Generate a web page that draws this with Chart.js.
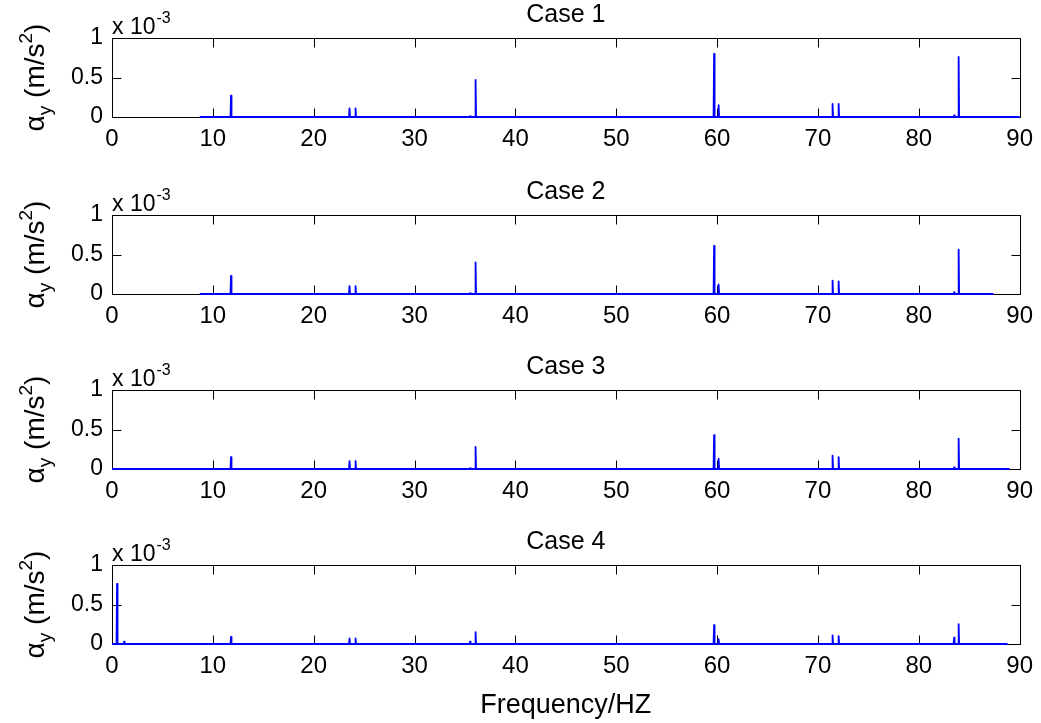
<!DOCTYPE html>
<html>
<head>
<meta charset="utf-8">
<script src="https://cdn.jsdelivr.net/npm/chart.js@4.4.1/dist/chart.umd.min.js"></script>
<style>
  body { margin: 0; background: #fff; }
  #wrap { position: relative; width: 1041px; height: 723px; }
  #wrap canvas { position: absolute; left: 0; }
</style>
</head>
<body>
<div id="wrap"></div>
<script>
// Spectral lines (Hz) and their peak acceleration, in units of 1e-3 m/s^2
const caseNames = ['Case 1', 'Case 2', 'Case 3', 'Case 4']
const peakHz = [0.5, 1.2, 11.8, 23.55, 24.15, 35.5, 36.05, 59.7, 60.15, 71.45, 72.05, 83.5, 83.95]
const case1Amp = [0, 0, 0.27, 0.11, 0.11, 0.01, 0.47, 0.80, 0.15, 0.165, 0.165, 0.02, 0.76]
const case2Amp = [0, 0, 0.23, 0.10, 0.10, 0.01, 0.40, 0.61, 0.12, 0.17, 0.16, 0.02, 0.56]
const case3Amp = [0, 0, 0.15, 0.10, 0.10, 0.01, 0.28, 0.43, 0.13, 0.17, 0.15, 0.02, 0.385]
const case4Amp = [0.76, 0.03, 0.09, 0.07, 0.07, 0.03, 0.15, 0.24, 0.06, 0.11, 0.10, 0.08, 0.25]
const caseAmps = [case1Amp, case2Amp, case3Amp, case4Amp]
// frequency range covered by each record
const caseSpanHz = [[8.7, 90], [8.7, 87.4], [0, 89], [0, 88.8]]

const xTicks = [0, 10, 20, 30, 40, 50, 60, 70, 80, 90]
const yTicks = [0, 0.5, 1]
const yTickLabels = ['0', '0.5', '1']

const FONT = '"Liberation Sans", Arial, Helvetica, sans-serif'
const PLOT_LEFT = 112
const PLOT_RIGHT = 1024
const PLOT_H = 79
const PAD_TOP = 38
const X_AXIS_H = 32
const TICK = 9
const panelTops = [38, 215, 390, 565]

function buildSpectrum(amps, span) {
  const pts = [{ x: span[0], y: 0 }]
  peakHz.forEach((f, i) => {
    const a = amps[i]
    if (!a) return
    pts.push({ x: f - 0.05, y: 0 }, { x: f, y: a }, { x: f + 0.05, y: 0 })
  })
  pts.push({ x: span[1], y: 0 })
  return pts
}

function text(ctx, str, x, y, size, align) {
  ctx.font = size + 'px ' + FONT
  ctx.textAlign = align || 'left'
  ctx.fillText(str, x, y)
  return ctx.measureText(str).width
}

// box, inward ticks and all the annotation text of a panel
const framePlugin = {
  id: 'frame',
  beforeDatasetsDraw(chart) {
    const { ctx, chartArea: a, scales: { x, y } } = chart
    const l = Math.round(a.left) + 0.5, r = Math.round(a.right) + 0.5
    const t = Math.round(a.top) + 0.5, b = Math.round(a.bottom) + 0.5
    ctx.save()
    ctx.strokeStyle = '#000'
    ctx.lineWidth = 1
    ctx.strokeRect(l, t, r - l, b - t)
    ctx.beginPath()
    xTicks.forEach(v => {
      const px = Math.round(x.getPixelForValue(v)) + 0.5
      ctx.moveTo(px, b); ctx.lineTo(px, b - TICK)
      ctx.moveTo(px, t); ctx.lineTo(px, t + TICK)
    })
    yTicks.forEach(v => {
      const py = Math.round(y.getPixelForValue(v)) + 0.5
      ctx.moveTo(l, py); ctx.lineTo(l + TICK, py)
      ctx.moveTo(r, py); ctx.lineTo(r - TICK, py)
    })
    ctx.stroke()
    ctx.restore()
  },
  afterDraw(chart, args, opts) {
    const { ctx, chartArea: a } = chart
    const cx = (a.left + a.right) / 2
    ctx.save()
    ctx.fillStyle = '#000'
    ctx.textBaseline = 'alphabetic'

    // panel title
    text(ctx, opts.title, cx, a.top - 16, 25, 'center')

    // exponent of the y values
    const w = text(ctx, 'x 10', a.left, a.top - 4, 23)
    text(ctx, '-3', a.left + w + 1, a.top - 15, 16)

    // y axis title, rotated
    ctx.save()
    ctx.translate(44, (a.top + a.bottom) / 2)
    ctx.rotate(-Math.PI / 2)
    const parts = [['\u03b1', 28, 0], ['y', 19, 7], [' (m/s', 28, 0], ['2', 19, -12], [')', 28, 0]]
    let total = 0
    parts.forEach(p => { ctx.font = p[1] + 'px ' + FONT; total += ctx.measureText(p[0]).width })
    let u = -total / 2
    parts.forEach(p => { u += text(ctx, p[0], u, p[2], p[1]) })
    ctx.restore()

    if (opts.xTitle) {
      text(ctx, opts.xTitle, cx, a.bottom + 69, 27, 'center')
    }
    ctx.restore()
  }
}

const wrap = document.getElementById('wrap')

caseNames.forEach((name, i) => {
  const top = panelTops[i] - PAD_TOP
  const last = i === caseNames.length - 1
  const height = last ? 723 - top : 176
  const canvas = document.createElement('canvas')
  canvas.width = 1041
  canvas.height = height
  canvas.style.top = top + 'px'
  wrap.appendChild(canvas)

  new Chart(canvas.getContext('2d'), {
    type: 'line',
    data: {
      datasets: [{
        data: buildSpectrum(caseAmps[i], caseSpanHz[i]),
        borderColor: '#0000ff',
        borderWidth: 1.8,
        borderJoinStyle: 'round',
        pointRadius: 0,
        tension: 0,
        clip: false,
      }],
    },
    options: {
      responsive: false,
      devicePixelRatio: 1,
      animation: false,
      layout: {
        padding: { top: PAD_TOP, left: 0, right: 1041 - PLOT_RIGHT, bottom: height - PAD_TOP - PLOT_H - X_AXIS_H },
      },
      plugins: {
        legend: { display: false },
        tooltip: { enabled: false },
        frame: { title: name, xTitle: last ? 'Frequency/HZ' : '' },
      },
      scales: {
        x: {
          type: 'linear',
          min: 0,
          max: 90,
          afterBuildTicks: s => { s.ticks = xTicks.map(v => ({ value: v })) },
          afterFit: s => { s.height = X_AXIS_H },
          grid: { display: false, drawTicks: false },
          border: { display: false },
          ticks: { color: '#000', padding: 8, maxRotation: 0, font: { family: FONT, size: 24 } },
        },
        y: {
          min: 0,
          max: 1,
          afterBuildTicks: s => { s.ticks = yTicks.map(v => ({ value: v })) },
          afterFit: s => { s.width = PLOT_LEFT },
          grid: { display: false, drawTicks: false },
          border: { display: false },
          ticks: {
            color: '#000',
            padding: 9,
            font: { family: FONT, size: 23 },
            callback: (v, idx) => yTickLabels[idx],
          },
        },
      },
    },
    plugins: [framePlugin],
  })
})
</script>
</body>
</html>
